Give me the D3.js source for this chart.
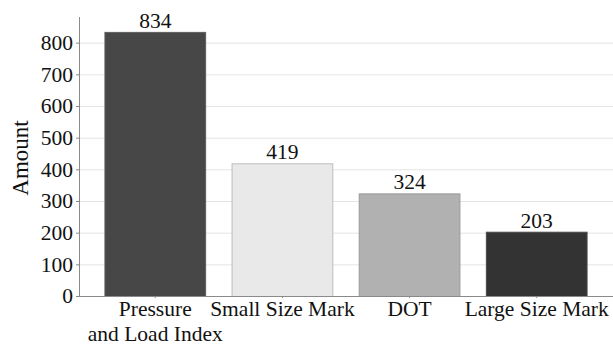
<!DOCTYPE html>
<html>
<head>
<meta charset="utf-8">
<script src="https://cdn.jsdelivr.net/npm/d3@7"></script>
<style>
  html, body { margin: 0; padding: 0; background: #fff; }
  svg { display: block; }
  text { font-family: "Liberation Serif", "Times New Roman", serif; fill: #111; }
</style>
</head>
<body>
<svg id="chart" width="613" height="348"></svg>
<script>
// Counts per marking type
const categories = ["Pressure\nand Load Index", "Small Size Mark", "DOT", "Large Size Mark"];
const amounts = [834, 419, 324, 203];
const barFills = ["#474747", "#e9e9e9", "#b1b1b1", "#333333"];
const barStrokes = ["#5e5e5e", "#bdbdbd", "#999999", "#4a4a4a"];
const yTicks = [0, 100, 200, 300, 400, 500, 600, 700, 800];

const svg = d3.select("#chart");
const margin = { left: 79, right: 0, top: 17, bottom: 52 };
const W = 613, H = 348;
const fontSize = 21.5;

const x = d3.scaleBand()
  .domain(categories)
  .range([margin.left, W - margin.right])
  .paddingInner(0.2)
  .paddingOuter(0.2);

const y = d3.scaleLinear()
  .domain([0, 881])
  .range([H - margin.bottom, margin.top]);

// horizontal gridlines
svg.append("g")
  .selectAll("line")
  .data(yTicks.filter(d => d > 0))
  .join("line")
  .attr("x1", margin.left)
  .attr("x2", W - margin.right)
  .attr("y1", d => y(d) + 0.5)
  .attr("y2", d => y(d) + 0.5)
  .attr("stroke", "#e4e4e4")
  .attr("stroke-width", 1);

// bars
svg.append("g")
  .selectAll("rect")
  .data(amounts)
  .join("rect")
  .attr("x", (d, i) => x(categories[i]) + 0.5)
  .attr("y", d => y(d) + 0.5)
  .attr("width", x.bandwidth() - 1)
  .attr("height", d => y(0) - y(d))
  .attr("fill", (d, i) => barFills[i])
  .attr("stroke", (d, i) => barStrokes[i])
  .attr("stroke-width", 1);

// value labels above bars
svg.append("g")
  .selectAll("text")
  .data(amounts)
  .join("text")
  .attr("x", (d, i) => x(categories[i]) + x.bandwidth() / 2)
  .attr("y", d => y(d) - 4)
  .attr("text-anchor", "middle")
  .attr("font-size", fontSize)
  .text(d => d);

// y axis
const yAxis = svg.append("g")
  .attr("transform", `translate(${margin.left},0)`)
  .call(d3.axisLeft(y).tickValues(yTicks).tickSize(3).tickPadding(3).tickFormat(d3.format("d")));
yAxis.select(".domain").remove();
yAxis.selectAll(".tick line").attr("stroke", "#8a8a8a");
yAxis.selectAll(".tick text")
  .attr("font-size", fontSize)
  .attr("fill", "#111");
svg.append("line")
  .attr("x1", margin.left + 0.5).attr("x2", margin.left + 0.5)
  .attr("y1", margin.top).attr("y2", y(0))
  .attr("stroke", "#8a8a8a");

// x axis
const xAxis = svg.append("g")
  .attr("transform", `translate(0,${y(0)})`)
  .call(d3.axisBottom(x).tickSize(2).tickFormat(""));
xAxis.select(".domain").remove();
xAxis.selectAll(".tick line").attr("stroke", "#8a8a8a");
svg.append("line")
  .attr("x1", margin.left).attr("x2", W - margin.right)
  .attr("y1", y(0) + 0.5).attr("y2", y(0) + 0.5)
  .attr("stroke", "#8a8a8a");

// category labels, split on line breaks
svg.append("g")
  .selectAll("text")
  .data(categories)
  .join("text")
  .attr("x", d => x(d) + x.bandwidth() / 2)
  .attr("y", 316)
  .attr("text-anchor", "middle")
  .attr("font-size", fontSize)
  .each(function (d) {
    const lines = d.split("\n");
    d3.select(this).selectAll("tspan")
      .data(lines)
      .join("tspan")
      .attr("x", x(d) + x.bandwidth() / 2)
      .attr("dy", (l, i) => i === 0 ? 0 : 24.5)
      .text(l => l);
  });

// y axis title
svg.append("text")
  .attr("transform", `translate(28,158) rotate(-90)`)
  .attr("text-anchor", "middle")
  .attr("font-size", 23)
  .text("Amount");
</script>
</body>
</html>
